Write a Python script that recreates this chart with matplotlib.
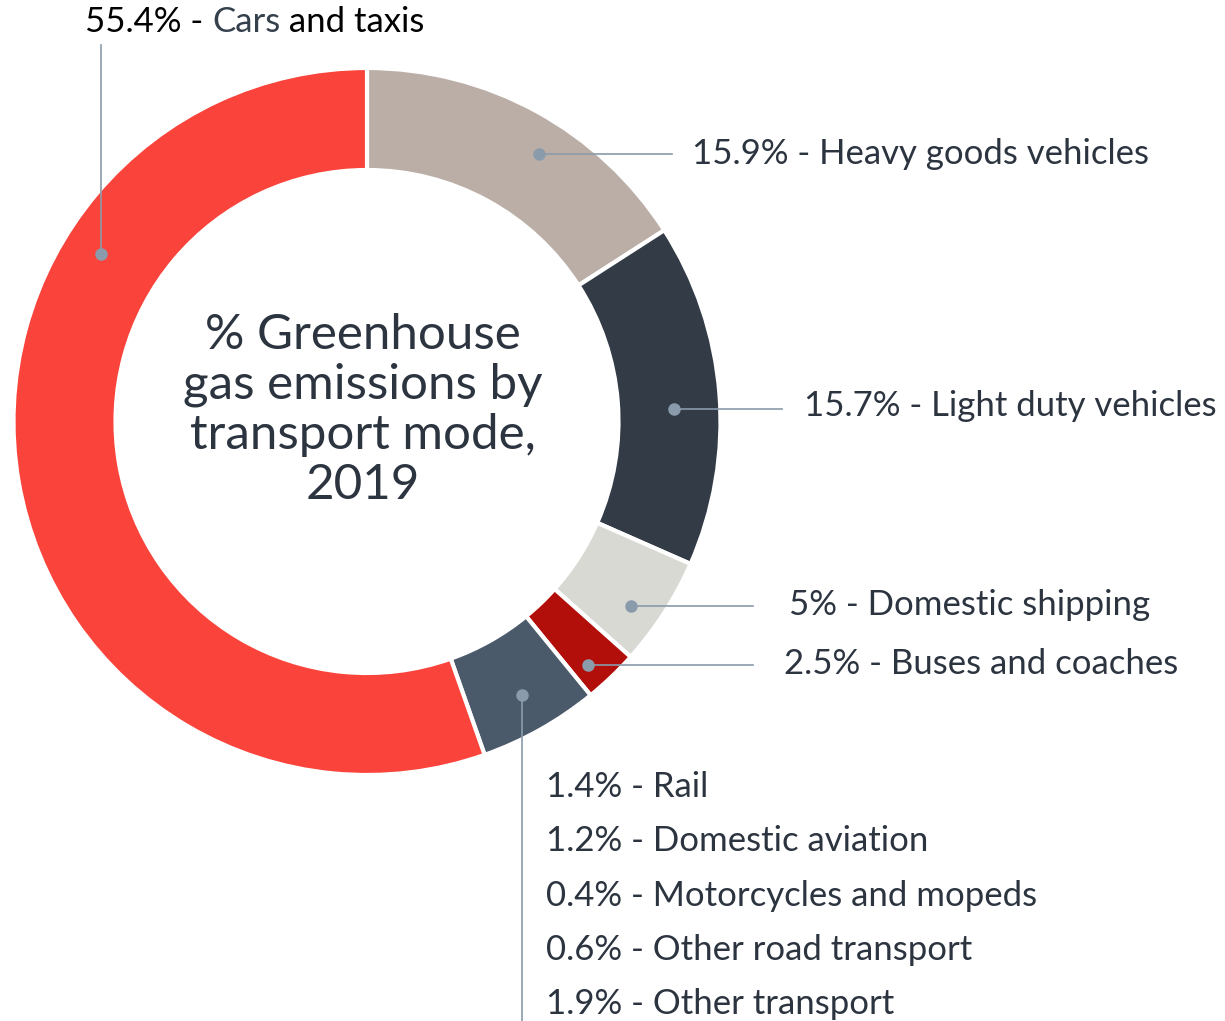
import numpy as np
import matplotlib
matplotlib.use("Agg")
import matplotlib.pyplot as plt

# segments clockwise from 12 o'clock
segments = ["Heavy goods vehicles", "Light duty vehicles", "Domestic shipping",
            "Buses and coaches", "Other", "Cars and taxis"]
shares = [15.9, 15.7, 5.0, 2.5, 5.5, 55.4]
colours = ["#bbaea6", "#323b46", "#d9d9d4", "#b30f0a", "#4a5a6a", "#fa443b"]

# the "Other" slice broken down in the list under the chart
other_labels = ["1.4% - Rail", "1.2% - Domestic aviation", "0.4% - Motorcycles and mopeds",
                "0.6% - Other road transport", "1.9% - Other transport"]

title = "% Greenhouse\ngas emissions by\ntransport mode,\n2019"

W, H = 1225, 1021
TXT = "#2c3440"
LINE = "#8a9bab"
FS = 25
plt.rcParams['font.family'] = ['Lato', 'DejaVu Sans']

fig = plt.figure(figsize=(W / 100, H / 100), dpi=100)
ax = fig.add_axes([0, 0, 1, 1])

cx, cy = 367, H - 421.5
R = 353.5
wedges, _ = ax.pie(shares, colors=colours, startangle=90, counterclock=False,
                   radius=R, center=(cx, cy), frame=True,
                   wedgeprops=dict(width=R - 251.5, edgecolor="white", linewidth=3))
ax.set_xlim(0, W)
ax.set_ylim(0, H)
ax.set_aspect("equal")
ax.axis("off")

ax.text(cx - 4, H - 410, title, ha="center", va="center", fontsize=35.5,
        color=TXT, linespacing=1.17)

# where along each wedge the leader dot sits
frac = [0.57, 0.54, 0.62, 0.66, 0.49, 0.71]
dot_r = [0.9 * R, 0.87 * R, 0.91 * R, 0.93 * R, 0.89 * R, 0.89 * R]


def dot_pos(i):
    w = wedges[i]
    t1, t2 = w.theta1, w.theta2
    a = np.radians(t2 - frac[i] * (t2 - t1))
    return cx + dot_r[i] * np.cos(a), cy + dot_r[i] * np.sin(a)


# horizontal leaders on the right: (line end x, text x, text y from top)
right = {0: (672, 692, 154), 1: (782, 804, 406), 2: (753, 789, 605), 3: (753, 784, 664)}
for i, (xe, xt, yt) in right.items():
    x, y = dot_pos(i)
    ax.plot([x, xe], [y, y], color=LINE, lw=1.2, zorder=3)
    ax.plot(x, y, "o", color=LINE, ms=8, zorder=4)
    ax.text(xt, H - yt, "%g%% - %s" % (shares[i], segments[i]), ha="left",
            va="center", fontsize=FS, color=TXT)

# other: vertical leader down to the list
x, y = dot_pos(4)
ax.plot([x, x], [y, 0], color=LINE, lw=1.2, zorder=3)
ax.plot(x, y, "o", color=LINE, ms=8, zorder=4)
for k, lab in enumerate(other_labels):
    ax.text(546, H - (787 + k * 54.3), lab, ha="left", va="center",
            fontsize=FS, color=TXT)

# cars: vertical leader up to the label
x, y = dot_pos(5)
ax.plot([x, x], [y, H - 45], color=LINE, lw=1.2, zorder=3)
ax.plot(x, y, "o", color=LINE, ms=8, zorder=4)
t = ax.text(85, H - 22, "%g%% - " % shares[5], ha="left", va="center",
            fontsize=FS, color="black")
fig.canvas.draw()
t2 = ax.annotate("Cars", xycoords=t, xy=(1, 0.5), va="center", ha="left",
                 fontsize=FS, color="#34404c")
fig.canvas.draw()
ax.annotate(" and taxis", xycoords=t2, xy=(1, 0.5), va="center", ha="left",
            fontsize=FS, color="black")

fig.savefig("out.png", dpi=100, facecolor="white")
